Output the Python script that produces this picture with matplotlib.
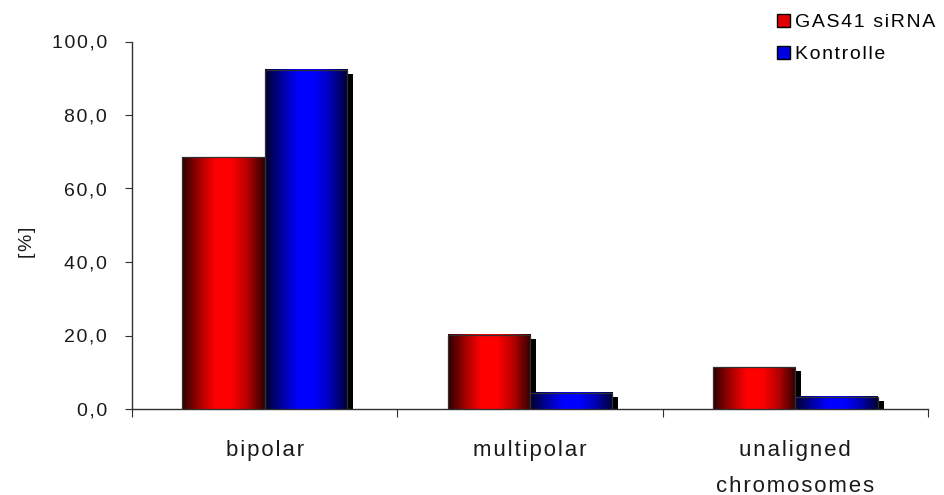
import numpy as np
import matplotlib
matplotlib.use("Agg")
import matplotlib.pyplot as plt
from matplotlib.patches import Rectangle, Patch
from matplotlib.colors import LinearSegmentedColormap

categories = ["bipolar", "multipolar", "unaligned\nchromosomes"]
gas41 = [68.5, 20.2, 11.4]
kontrolle = [92.3, 4.4, 3.3]
series_names = ["GAS41 siRNA", "Kontrolle"]
yticks = [0, 20, 40, 60, 80, 100]

plt.rcParams['font.family'] = ['Liberation Sans', 'DejaVu Sans']


def spaced(s, gap="\u200a"):
    # wide letter spacing, line by line
    return "\n".join(gap.join(line) for line in s.split("\n"))


fig = plt.figure(figsize=(9.44, 4.95), dpi=100)
ax = fig.add_axes([132 / 944, 86 / 495, 796 / 944, 367.5 / 495])

red_cmap = LinearSegmentedColormap.from_list(
    "cyl_red", ["#2a0000", "#a00000", "#ff0000", "#ff0000", "#b00000", "#300000"])
blue_cmap = LinearSegmentedColormap.from_list(
    "cyl_blue", ["#00002a", "#0000a0", "#0000ff", "#0000ff", "#0000b0", "#000030"])

bar_w = 0.31
dx_shadow = 6 / 265.3   # shadow offset, px -> data units
dy_shadow = 4 / 3.675
grad = np.linspace(0, 1, 256).reshape(1, -1)


def cylinder_bar(x0, value, cmap):
    # dark drop shadow to the lower right
    ax.add_patch(Rectangle((x0 + dx_shadow, 0), bar_w, value - dy_shadow,
                           facecolor="black", edgecolor="none", zorder=2))
    ax.imshow(grad, cmap=cmap, aspect="auto", extent=[x0, x0 + bar_w, 0, value],
              interpolation="bilinear", zorder=3)
    ax.add_patch(Rectangle((x0, 0), bar_w, value, facecolor="none",
                           edgecolor="#303030", linewidth=0.9, zorder=4))


for i in range(len(categories)):
    cylinder_bar(i + 0.5 - bar_w, gas41[i], red_cmap)
    cylinder_bar(i + 0.5, kontrolle[i], blue_cmap)

ax.set_xlim(0, 3)
ax.set_ylim(0, 100)

ax.spines["top"].set_visible(False)
ax.spines["right"].set_visible(False)
for s in ("left", "bottom"):
    ax.spines[s].set_color("#303030")
    ax.spines[s].set_linewidth(1.0)

ax.set_xticks([0, 1, 2, 3])
ax.set_xticklabels([])
ax.set_xticks([0.5, 1.5, 2.5], minor=True)
ax.set_xticklabels([spaced(c) for c in categories], minor=True, fontsize=16,
                   color="#1a1a1a", linespacing=1.95, va="top")
ax.tick_params(axis="x", which="minor", length=0, pad=22)
ax.tick_params(axis="x", which="major", length=6, direction="out", color="#303030")

ax.set_yticks(yticks)
ax.set_yticklabels([spaced(f"{v:.1f}".replace(".", ",")) for v in yticks],
                   fontsize=14, color="#1a1a1a")
ax.tick_params(axis="y", length=5, direction="out", pad=13, color="#303030")

fig.text(28 / 944, 1 - 242 / 495, spaced("[%]"), rotation=90, fontsize=14,
         color="#1a1a1a", ha="center", va="center")

handles = [Patch(facecolor="#e00000", edgecolor="black", linewidth=1.0),
           Patch(facecolor="#0000e0", edgecolor="black", linewidth=1.0)]
fig.legend(handles, [spaced(s) for s in series_names], loc="upper left",
           bbox_to_anchor=(777 / 944, 1 - 14 / 495), frameon=False,
           borderpad=0, borderaxespad=0,
           fontsize=14, handlelength=0.65, handleheight=0.65,
           handletextpad=0.3, labelspacing=0.75)

fig.savefig("out.png", dpi=100)
